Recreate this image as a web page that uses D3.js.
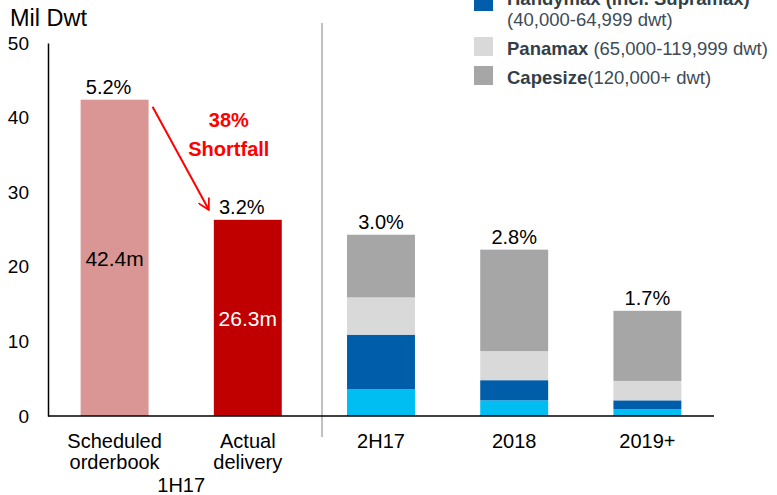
<!DOCTYPE html>
<html>
<head>
<meta charset="utf-8">
<script src="https://cdn.jsdelivr.net/npm/d3@7"></script>
<style>
  body { margin: 0; background: #fff; }
  svg text { font-family: "Liberation Sans", Arial, sans-serif; }
</style>
</head>
<body>
<div id="chart"></div>
<script>
// categories
const categories = ['Scheduled orderbook', 'Actual delivery', '2H17', '2018', '2019+'];
const pctLabels = ['5.2%', '3.2%', '3.0%', '2.8%', '1.7%'];

// 1H17 single bars
const singleCats = ['Scheduled orderbook', 'Actual delivery'];
const singleValues = [42.4, 26.3];
const singleLabels = ['42.4m', '26.3m'];

// stacked bars (Mil Dwt)
const stackCats = ['2H17', '2018', '2019+'];
const seriesKeys = ['Handysize', 'Handymax', 'Panamax', 'Capesize'];
const handysize = [3.6, 2.1, 0.9];
const handymax = [7.3, 2.7, 1.2];
const panamax = [5.0, 3.9, 2.6];
const capesize = [8.4, 13.6, 9.4];

const yTicks = [0, 10, 20, 30, 40, 50];

const legendNames = ['Handysize', 'Handymax (incl. Supramax)', 'Panamax', 'Capesize'];
const legendRanges = ['(10,000-39,999 dwt)', '(40,000-64,999 dwt)', ' (65,000-119,999 dwt)', '(120,000+ dwt)'];

const colors = {
    'Scheduled orderbook': '#D99694',
    'Actual delivery': '#C00000',
    Handysize: '#00BDF2',
    Handymax: '#005DAA',
    Panamax: '#D9D9D9',
    Capesize: '#A6A6A6'
};

const width = 777, height = 495;
const svg = d3.select('#chart').append('svg')
    .attr('width', width)
    .attr('height', height);

const x = d3.scaleBand()
    .domain(categories)
    .range([48, 714])
    .paddingInner(0.49)
    .paddingOuter(0.245);

const y = d3.scaleLinear()
    .domain([0, 50])
    .range([416, 43]);

// y axis
const yAxis = svg.append('g')
    .attr('transform', 'translate(48,0)')
    .call(d3.axisLeft(y).tickValues(yTicks).tickSize(0).tickPadding(19));
yAxis.select('.domain').attr('stroke', '#000').attr('stroke-width', 1.5);
yAxis.selectAll('text').attr('font-size', 19).attr('fill', '#000')
    .style('font-family', '"Liberation Sans", Arial, sans-serif');

svg.append('text')
    .attr('x', 10).attr('y', 26)
    .attr('font-size', 23.5)
    .text('Mil Dwt');

// separator between 1H17 and forecast
const sepX = x('2H17') - 25;
svg.append('line')
    .attr('x1', sepX).attr('x2', sepX)
    .attr('y1', 23).attr('y2', 437)
    .attr('stroke', '#BFBFBF').attr('stroke-width', 2);

// single bars
singleCats.forEach((c, i) => {
    svg.append('rect')
        .attr('x', x(c))
        .attr('y', y(singleValues[i]))
        .attr('width', x.bandwidth())
        .attr('height', y(0) - y(singleValues[i]))
        .attr('fill', colors[c]);
    svg.append('text')
        .attr('x', x(c) + x.bandwidth() / 2)
        .attr('y', y(singleValues[i] / 2) + 8)
        .attr('text-anchor', 'middle')
        .attr('font-size', 21)
        .attr('fill', i === 0 ? '#000' : '#fff')
        .text(singleLabels[i]);
});

// stacked bars
const stackData = stackCats.map((c, i) => ({
    cat: c,
    Handysize: handysize[i],
    Handymax: handymax[i],
    Panamax: panamax[i],
    Capesize: capesize[i]
}));
const stacked = d3.stack().keys(seriesKeys)(stackData);

svg.append('g')
    .selectAll('g')
    .data(stacked)
    .enter()
    .append('g')
    .attr('fill', d => colors[d.key])
    .selectAll('rect')
    .data(d => d)
    .enter()
    .append('rect')
    .attr('x', d => x(d.data.cat))
    .attr('y', d => y(d[1]))
    .attr('width', x.bandwidth())
    .attr('height', d => y(d[0]) - y(d[1]));

// totals for percent labels
const totals = singleValues.concat(stackData.map(d => seriesKeys.reduce((s, k) => s + d[k], 0)));
svg.append('g')
    .selectAll('text')
    .data(categories)
    .enter()
    .append('text')
    .attr('x', (d, i) => x(d) + x.bandwidth() / 2 - (i < 2 ? 6 : 0))
    .attr('y', (d, i) => y(totals[i]) - 6)
    .attr('text-anchor', 'middle')
    .attr('font-size', 20)
    .text((d, i) => pctLabels[i]);

// x axis line
svg.append('line')
    .attr('x1', 48).attr('x2', 714)
    .attr('y1', y(0)).attr('y2', y(0))
    .attr('stroke', '#000').attr('stroke-width', 1.5);

// category labels
const catLines = {
    'Scheduled orderbook': ['Scheduled', 'orderbook'],
    'Actual delivery': ['Actual', 'delivery']
};
categories.forEach(c => {
    const lines = catLines[c] || [c];
    const t = svg.append('text')
        .attr('x', x(c) + x.bandwidth() / 2)
        .attr('y', 448)
        .attr('text-anchor', 'middle')
        .attr('font-size', 20);
    lines.forEach((l, j) => {
        t.append('tspan')
            .attr('x', x(c) + x.bandwidth() / 2)
            .attr('dy', j === 0 ? 0 : 21)
            .text(l);
    });
});
svg.append('text')
    .attr('x', (x('Scheduled orderbook') + x('Actual delivery') + x.bandwidth()) / 2)
    .attr('y', 492)
    .attr('text-anchor', 'middle')
    .attr('font-size', 20)
    .text('1H17');

// shortfall arrow
svg.append('defs').append('marker')
    .attr('id', 'arrowHead')
    .attr('viewBox', '0 0 12 12')
    .attr('refX', 11).attr('refY', 6)
    .attr('markerWidth', 13).attr('markerHeight', 13)
    .attr('markerUnits', 'userSpaceOnUse')
    .attr('orient', 'auto')
    .append('path')
    .attr('d', 'M1,0.5 L11,6 L1,11.5')
    .attr('fill', 'none')
    .attr('stroke', '#FF0000')
    .attr('stroke-width', 1.6);

svg.append('line')
    .attr('x1', x('Scheduled orderbook') + x.bandwidth() + 4)
    .attr('y1', y(singleValues[0]) + 7)
    .attr('x2', x('Actual delivery') - 5)
    .attr('y2', y(singleValues[1]) - 10)
    .attr('stroke', '#FF0000')
    .attr('stroke-width', 2)
    .attr('marker-end', 'url(#arrowHead)');

const shortX = x('Actual delivery') + 15;
svg.append('text')
    .attr('x', shortX).attr('y', 127)
    .attr('text-anchor', 'middle')
    .attr('font-size', 20).attr('font-weight', 'bold')
    .attr('fill', '#FF0000')
    .text('38%');
svg.append('text')
    .attr('x', shortX).attr('y', 156)
    .attr('text-anchor', 'middle')
    .attr('font-size', 20).attr('font-weight', 'bold')
    .attr('fill', '#FF0000')
    .text('Shortfall');

// legend (top rows run off the top edge, as in the source)
const rowTops = [-53, -8, 37, 66];
const legend = svg.append('g');
seriesKeys.forEach((k, i) => {
    const top = rowTops[i];
    legend.append('rect')
        .attr('x', 474).attr('y', top)
        .attr('width', 19).attr('height', 19)
        .attr('fill', colors[k]);
    const twoLine = i < 2;
    const t = legend.append('text')
        .attr('x', 507)
        .attr('y', twoLine ? top + 13 : top + 18)
        .attr('font-size', 18.5)
        .attr('fill', '#333F48');
    t.append('tspan').attr('font-weight', 'bold').text(legendNames[i]);
    if (twoLine) {
        t.append('tspan').attr('x', 507).attr('dy', 21)
            .attr('fill', '#404B55').text(legendRanges[i]);
    } else {
        t.append('tspan').attr('fill', '#404B55').text(legendRanges[i]);
    }
});
</script>
</body>
</html>
